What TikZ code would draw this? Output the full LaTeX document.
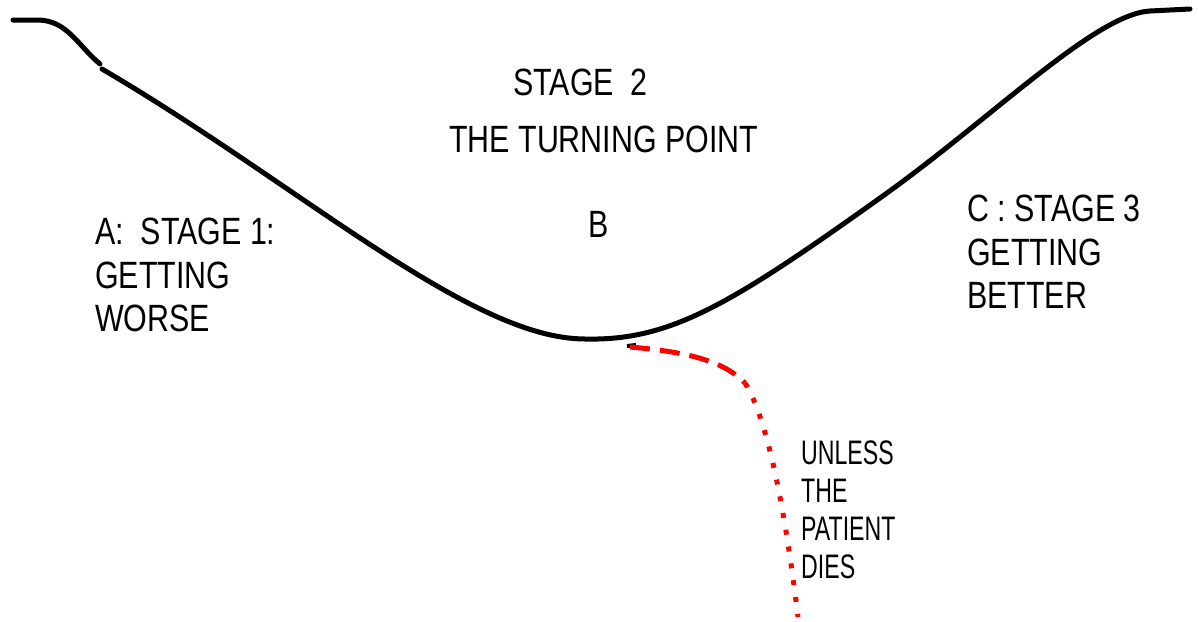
\documentclass[tikz,border=0pt]{standalone}
\usepackage{fontspec}
\newfontfamily\stagefont[FakeStretch=0.8]{Liberation Sans}
\newfontfamily\notefont[FakeStretch=0.68]{Liberation Sans}
\definecolor{red1}{RGB}{255, 0, 0}
\usetikzlibrary{positioning}
\tikzset{
  stagelabel/.style={inner sep=0pt, align=left, font=\stagefont\fontsize{38}{43.5}\selectfont},
  notelabel/.style={inner sep=0pt, align=left, font=\notefont\fontsize{34}{37.7}\selectfont},
  course/.style={line width=5pt, line cap=round, line join=round},
  deathpath/.style={draw=red1, line width=5pt},
}

\begin{document}
\begin{tikzpicture}[x=1pt, y=-1pt]
  \useasboundingbox (0,0) rectangle (1198,621);

  % the course of the illness
  \coordinate (crisis) at (585,339);
  \coordinate (mend) at (880,198);
  \draw[course] (13,20) -- (37,20) to[out=0, in=140] (100,64);
  \draw[course] (102,69) .. controls (300,185) and (470,339) .. (crisis)
    .. controls (670,341) and (730,305) .. (mend)
    .. controls (990,120) and (1095,14) .. (1150,11) -- (1190,9);

  % branch to death
  \coordinate (fork) at (630,347);
  \coordinate (bend) at (745,383);
  \coordinate (deathend) at (798,617);
  \draw[line width=4pt] (627,346) -- (636,345);
  \draw[deathpath, dash pattern=on 20pt off 10pt] (fork) .. controls (690,352) and (725,362) .. (bend);
  \draw[deathpath, dash pattern=on 5pt off 12pt] (bend) .. controls (768,420) and (785,510) .. (deathend);

  % labels
  \node[stagelabel, anchor=base west] (stage2) at (513,95) {STAGE\ \ 2};
  \node[stagelabel, anchor=base west] (turning) at (449,152) {THE TURNING POINT};
  \node[stagelabel, anchor=base west] (pointB) at (588,237) {B};
  \node[stagelabel, anchor=north west] (stage1) at (95,218) {A:\ \ STAGE 1:\\GETTING\\WORSE};
  \node[stagelabel, anchor=north west] (stage3) at (967,195) {C : STAGE 3\\GETTING\\BETTER};
  \node[notelabel, anchor=north west] (dies) at (801,441) {UNLESS\\THE\\PATIENT\\DIES};
\end{tikzpicture}
\end{document}
